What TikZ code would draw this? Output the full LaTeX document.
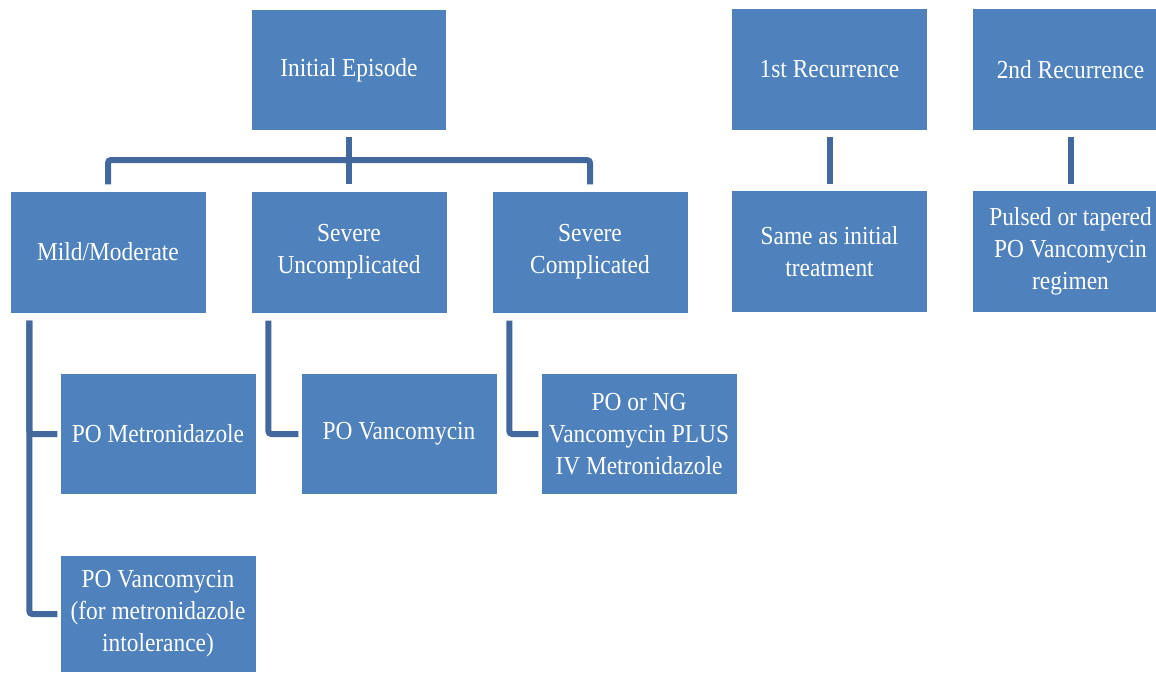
\documentclass[tikz,border=0pt]{standalone}
\usepackage{fontspec}
\setmainfont{Liberation Serif}[FakeStretch=0.9]
\definecolor{boxblue}{HTML}{4F81BD}
\definecolor{lineblue}{RGB}{66,104,158}
\begin{document}
\begin{tikzpicture}[x=1pt,y=-1pt,
  box/.style={fill=boxblue, draw=none, minimum width=195pt, minimum height=121pt, inner sep=0pt,
    text=white, align=center, font=\fontsize{26}{32}\selectfont},
  conn/.style={draw=lineblue, line width=6pt, rounded corners=3pt}]
\fill[white] (0,0) rectangle (1156,673);
\useasboundingbox (0,0) rectangle (1156,673);
% top row
\node[box, minimum width=194pt, minimum height=120pt] (init) at (349,70) {Initial Episode};
\node[box] (rec1) at (829.5,69.5) {1st Recurrence};
\node[box] (rec2) at (1070.5,69.5) {2nd Recurrence};
% second row
\node[box] (mild) at (108,252) {Mild/Moderate};
\node[box] (sevu) at (349,252) {Severe\\Uncomplicated};
\node[box] (sevc) at (590,252) {Severe\\Complicated};
\node[box] (same) at (829.5,251.5) {Same as initial\\treatment};
\node[box] (puls) at (1070.5,251.5) {Pulsed or tapered\\PO Vancomycin\\regimen};
% third row
\node[box, minimum height=120pt] (pom) at (158,434) {PO Metronidazole};
\node[box, minimum height=120pt] (povs) at (399,434) {PO Vancomycin};
\node[box, minimum height=120pt] (pong) at (639,434) {PO or NG\\Vancomycin PLUS\\IV Metronidazole};
\node[box, minimum height=116pt] (pov) at (158,614) {PO Vancomycin\\(for metronidazole\\intolerance)};
% connectors
\coordinate (bar) at (349,160);
\draw[conn] ([yshift=-7pt]init.south) -- ([yshift=7pt]sevu.north);
\draw[conn] ([yshift=7pt]mild.north) |- (bar) -| ([yshift=7pt]sevc.north);
\draw[conn] ([yshift=-7pt]rec1.south) -- ([yshift=7pt]same.north);
\draw[conn] ([yshift=-7pt]rec2.south) -- ([yshift=7pt]puls.north);
\draw[conn] ([xshift=19pt,yshift=-8pt]mild.south west) |- ([xshift=-3pt]pom.west);
\draw[conn] ([xshift=19pt,yshift=-8pt]mild.south west) |- ([xshift=-3pt]pov.west);
\draw[conn] ([xshift=17pt,yshift=-8pt]sevu.south west) |- ([xshift=-3pt]povs.west);
\draw[conn] ([xshift=17pt,yshift=-8pt]sevc.south west) |- ([xshift=-3pt]pong.west);
\end{tikzpicture}
\end{document}
